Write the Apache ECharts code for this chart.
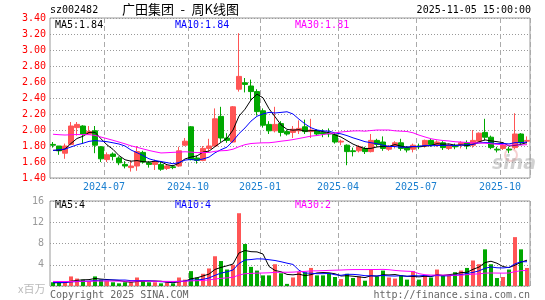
<!DOCTYPE html>
<html>
<head>
<meta charset="utf-8">
<title>广田集团 周K线图</title>
<script src="https://cdn.jsdelivr.net/npm/echarts@6/dist/echarts.min.js"></script>
<style>
html, body { margin: 0; padding: 0; background: #fff; }
#chart { width: 545px; height: 300px; }
</style>
</head>
<body>
<div id="chart"></div>
<script>
// 每周最后一个交易日
var dates = [
    '2024-04-30','2024-05-10','2024-05-17','2024-05-24','2024-05-31','2024-06-07','2024-06-14','2024-06-21',
    '2024-06-28','2024-07-05','2024-07-12','2024-07-19','2024-07-26','2024-08-02','2024-08-09','2024-08-16',
    '2024-08-23','2024-08-30','2024-09-06','2024-09-13','2024-09-20','2024-09-27','2024-09-30','2024-10-11',
    '2024-10-18','2024-10-25','2024-11-01','2024-11-08','2024-11-15','2024-11-22','2024-11-29','2024-12-06',
    '2024-12-13','2024-12-20','2024-12-27','2025-01-03','2025-01-10','2025-01-17','2025-01-24','2025-01-27',
    '2025-02-07','2025-02-14','2025-02-21','2025-02-28','2025-03-07','2025-03-14','2025-03-21','2025-03-28',
    '2025-04-03','2025-04-11','2025-04-18','2025-04-25','2025-04-30','2025-05-09','2025-05-16','2025-05-23',
    '2025-05-30','2025-06-06','2025-06-13','2025-06-20','2025-06-27','2025-07-04','2025-07-11','2025-07-18',
    '2025-07-25','2025-08-01','2025-08-08','2025-08-15','2025-08-22','2025-08-29','2025-09-05','2025-09-12',
    '2025-09-19','2025-09-26','2025-09-30','2025-10-10','2025-10-17','2025-10-24','2025-10-31','2025-11-05'
];

// [开盘, 收盘, 最低, 最高]
var ohlc = [
    [1.82,1.81,1.78,1.85],[1.80,1.74,1.69,1.80],[1.71,1.80,1.64,1.83],[1.82,2.05,1.81,2.10],
    [2.03,2.07,1.93,2.10],[2.05,1.95,1.83,2.06],[1.95,1.98,1.94,2.05],[1.99,1.81,1.71,2.05],
    [1.79,1.64,1.60,1.80],[1.63,1.69,1.60,1.72],[1.70,1.67,1.62,1.72],[1.65,1.59,1.56,1.67],
    [1.57,1.55,1.52,1.61],[1.53,1.55,1.48,1.62],[1.55,1.73,1.49,1.80],[1.72,1.60,1.58,1.74],
    [1.59,1.57,1.53,1.61],[1.57,1.60,1.50,1.63],[1.57,1.51,1.49,1.60],[1.52,1.55,1.50,1.57],
    [1.54,1.53,1.51,1.56],[1.55,1.74,1.54,1.79],[1.81,1.86,1.80,1.90],[2.04,1.63,1.62,2.05],
    [1.65,1.62,1.58,1.68],[1.62,1.77,1.61,1.80],[1.77,1.80,1.73,1.89],[1.80,2.14,1.79,2.27],
    [2.17,1.90,1.85,2.29],[1.90,1.87,1.84,1.96],[1.85,2.29,1.84,2.30],[2.51,2.67,2.48,3.21],
    [2.59,2.57,2.47,2.65],[2.55,2.48,2.37,2.63],[2.48,2.23,2.18,2.51],[2.24,2.06,2.03,2.27],
    [2.07,1.99,1.95,2.11],[1.99,2.07,1.97,2.29],[2.08,1.97,1.92,2.11],[1.98,1.95,1.93,2.00],
    [1.97,2.01,1.90,2.05],[1.99,2.02,1.95,2.12],[2.04,1.98,1.95,2.13],[1.98,2.00,1.90,2.14],
    [1.99,1.95,1.93,2.01],[1.97,1.95,1.91,2.01],[1.96,1.95,1.91,2.02],[1.94,1.85,1.83,1.96],
    [1.85,1.86,1.81,1.88],[1.81,1.73,1.56,1.82],[1.74,1.73,1.67,1.78],[1.74,1.79,1.72,1.81],
    [1.77,1.73,1.70,1.79],[1.73,1.87,1.72,1.95],[1.87,1.82,1.79,1.89],[1.85,1.77,1.74,1.92],
    [1.76,1.79,1.74,1.81],[1.80,1.84,1.77,1.86],[1.84,1.77,1.74,1.89],[1.78,1.75,1.72,1.80],
    [1.76,1.81,1.72,1.83],[1.80,1.79,1.76,1.83],[1.80,1.87,1.78,1.88],[1.87,1.82,1.79,1.89],
    [1.82,1.85,1.79,1.87],[1.84,1.78,1.75,1.86],[1.77,1.81,1.75,1.83],[1.80,1.79,1.76,1.83],
    [1.82,1.84,1.77,1.86],[1.84,1.80,1.76,1.87],[1.81,1.87,1.78,2.00],[1.86,1.96,1.85,1.97],
    [1.97,1.91,1.87,2.14],[1.91,1.78,1.76,1.93],[1.76,1.75,1.72,1.79],[1.77,1.81,1.75,1.83],
    [1.76,1.75,1.71,1.79],[1.78,1.95,1.76,2.21],[1.95,1.84,1.81,1.96],[1.86,1.87,1.83,1.92]
];

// 成交量, 百万股
var volume = [
    0.7,0.7,0.7,1.8,1.4,1.2,0.9,1.8,1.2,1.0,
    0.7,0.5,0.7,0.7,1.6,1.0,0.7,0.7,0.5,0.7,
    0.5,1.6,1.2,2.8,1.6,2.3,3.3,5.6,4.7,3.1,
    4.0,13.7,7.9,3.6,2.9,2.0,2.0,4.1,2.4,0.4,
    1.6,2.7,2.6,3.4,2.0,2.0,2.4,1.7,1.3,2.3,
    1.5,1.8,1.0,3.1,1.8,2.9,1.6,1.4,2.0,1.2,
    2.8,1.2,2.0,1.6,3.1,2.0,2.0,2.6,2.9,3.4,
    4.8,4.1,6.9,4.1,1.5,1.7,3.1,9.2,6.9,3.4
];

// 图左边之前的29周 (只用来算均线起点, 按图上均线起点估计)
var priorClose = [
    1.90,1.92,1.95,1.98,2.00,1.98,2.10,2.25,2.30,2.28,
    2.25,2.22,2.30,2.28,2.20,2.15,2.10,1.95,1.45,1.40,
    1.65,1.72,1.78,1.80,1.76,1.74,1.72,1.70,1.76
];
var priorVolume = [
    1.0,0.9,1.1,0.9,0.8,1.0,0.9,0.8,0.9,1.0,
    0.8,0.9,0.8,1.1,1.0,0.9,1.2,1.1,0.9,0.8,
    0.9,0.8,0.7,0.8,0.7,0.6,0.6,0.5,0.6
];

var tickLabels = ['2024-07','2024-10','2025-01','2025-04','2025-07','2025-10'];
var priceLegend = ['MA5:1.84','MA10:1.84','MA30:1.81'];
var volLegend = ['MA5:4','MA10:4','MA30:2'];

var UP = '#ff5555', DOWN = '#00a800';
var MONO = '"DejaVu Sans Mono", monospace';

function calcMA(n, prior, values){
    var all = prior.concat(values), out = [];
    for (var i = prior.length; i < all.length; i++) {
        var s = 0;
        for (var j = i - n + 1; j <= i; j++) s += all[j];
        out.push(+(s / n).toFixed(4));
    }
    return out;
}

var closes = ohlc.map(function(d){ return d[1]; });
var tickIdx = tickLabels.map(function(t){
    for (var i = 0; i < dates.length; i++) if (dates[i].indexOf(t) === 0) return i;
    return -1;
});
function isTick(i){ return tickIdx.indexOf(i) >= 0; }

var candleData = ohlc.map(function(d){ return [d[0], d[1], d[2], d[3]]; });
var volData = volume.map(function(v, i){
    var up = ohlc[i][1] >= ohlc[i][0];
    return { value: v, itemStyle: { color: up ? UP : DOWN } };
});

function maLine(name, data, color, xi, yi){
    return {
        name: name, type: 'line', data: data, xAxisIndex: xi, yAxisIndex: yi,
        symbol: 'none', silent: true, animation: false,
        lineStyle: { color: color, width: 1 }
    };
}

function xAxisFor(gi, showLabel){
    return {
        type: 'category', gridIndex: gi, data: dates, boundaryGap: true,
        axisLine: { show: false }, axisTick: { show: false },
        axisLabel: {
            show: showLabel, interval: function(i){ return isTick(i); },
            formatter: function(v){ return v.slice(0, 7); },
            color: '#1a7fd0', fontFamily: MONO, fontSize: 10, margin: 4,
            padding: [0, 6, 0, 0]
        },
        splitLine: {
            show: true, interval: function(i){ return isTick(i); },
            lineStyle: { color: '#aaa', type: [5, 3], width: 1 }
        }
    };
}

function legendText(x, y, text, color){
    return { type: 'text', left: x, top: y, silent: true,
        style: { text: text, fill: color, font: '10px ' + MONO } };
}

var chart = echarts.init(document.getElementById('chart'));
chart.setOption({
    animation: false,
    backgroundColor: '#fff',
    grid: [
        { left: 50, top: 18, width: 480, height: 160, show: true, borderColor: '#999', borderWidth: 1 },
        { left: 50, top: 201, width: 480, height: 85, show: true, borderColor: '#999', borderWidth: 1 }
    ],
    xAxis: [ xAxisFor(0, true), xAxisFor(1, false) ],
    yAxis: [
        {
            type: 'value', gridIndex: 0, min: 1.4, max: 3.4, interval: 0.2,
            axisLine: { show: false }, axisTick: { show: false },
            axisLabel: { color: '#ff0000', fontFamily: MONO, fontSize: 10, margin: 4,
                formatter: function(v){ return v.toFixed(2); } },
            splitLine: { lineStyle: { color: '#999', type: [1, 2] } }
        },
        {
            type: 'value', gridIndex: 1, min: 0, max: 16, interval: 4,
            axisLine: { show: false }, axisTick: { show: false },
            axisLabel: { color: '#999', fontFamily: MONO, fontSize: 10, margin: 6,
                formatter: function(v){ return v === 0 ? '' : String(v); } },
            splitLine: { lineStyle: { color: '#999', type: [1, 2] } }
        }
    ],
    series: [
        {
            type: 'candlestick', data: candleData, xAxisIndex: 0, yAxisIndex: 0,
            barWidth: 5, silent: true,
            itemStyle: { color: UP, color0: DOWN, borderColor: UP, borderColor0: DOWN, borderWidth: 1 }
        },
        maLine('MA5', calcMA(5, priorClose, closes), '#000000', 0, 0),
        maLine('MA10', calcMA(10, priorClose, closes), '#0000ff', 0, 0),
        maLine('MA30', calcMA(30, priorClose, closes), '#ff00ff', 0, 0),
        {
            type: 'bar', data: volData, xAxisIndex: 1, yAxisIndex: 1,
            barWidth: 4, silent: true
        },
        maLine('VMA5', calcMA(5, priorVolume, volume), '#000000', 1, 1),
        maLine('VMA10', calcMA(10, priorVolume, volume), '#0000ff', 1, 1),
        maLine('VMA30', calcMA(30, priorVolume, volume), '#ff00ff', 1, 1)
    ],
    graphic: [
        { type: 'text', left: 50, top: 5, style: { text: 'sz002482', fill: '#000', font: '10px ' + MONO } },
        { type: 'text', left: 122, top: 3, style: { text: '广田集团\u2002-\u2002周K线图', fill: '#000',
            font: '13px "Noto Sans CJK SC", sans-serif' } },
        { type: 'text', right: 14, top: 5, style: { text: '2025-11-05 15:00:00', fill: '#000', font: '10px ' + MONO } },
        legendText(55, 20, priceLegend[0], '#000'),
        legendText(175, 20, priceLegend[1], '#0000ff'),
        legendText(295, 20, priceLegend[2], '#ff00ff'),
        legendText(55, 200, volLegend[0], '#000'),
        legendText(175, 200, volLegend[1], '#0000ff'),
        legendText(295, 200, volLegend[2], '#ff00ff'),
        { type: 'text', left: 18, top: 283, style: { text: 'x百万', fill: '#bbb',
            font: '11px "Noto Sans CJK SC", sans-serif' } },
        { type: 'text', left: 50, top: 290, style: { text: 'Copyright 2025 SINA.COM', fill: '#666', font: '10px ' + MONO } },
        { type: 'text', right: 15, top: 290, style: { text: 'http://finance.sina.com.cn', fill: '#666', font: '10px ' + MONO } },
        // 新浪水印
        { type: 'circle', shape: { cx: 511, cy: 155, r: 6 }, silent: true,
            style: { fill: 'none', stroke: 'rgba(230,120,120,0.35)', lineWidth: 2 } },
        { type: 'text', left: 492, top: 155, silent: true,
            style: { text: 'sina', fill: 'rgba(140,140,140,0.4)', font: 'italic bold 19px "DejaVu Sans", sans-serif' } }
    ]
});
</script>
</body>
</html>
